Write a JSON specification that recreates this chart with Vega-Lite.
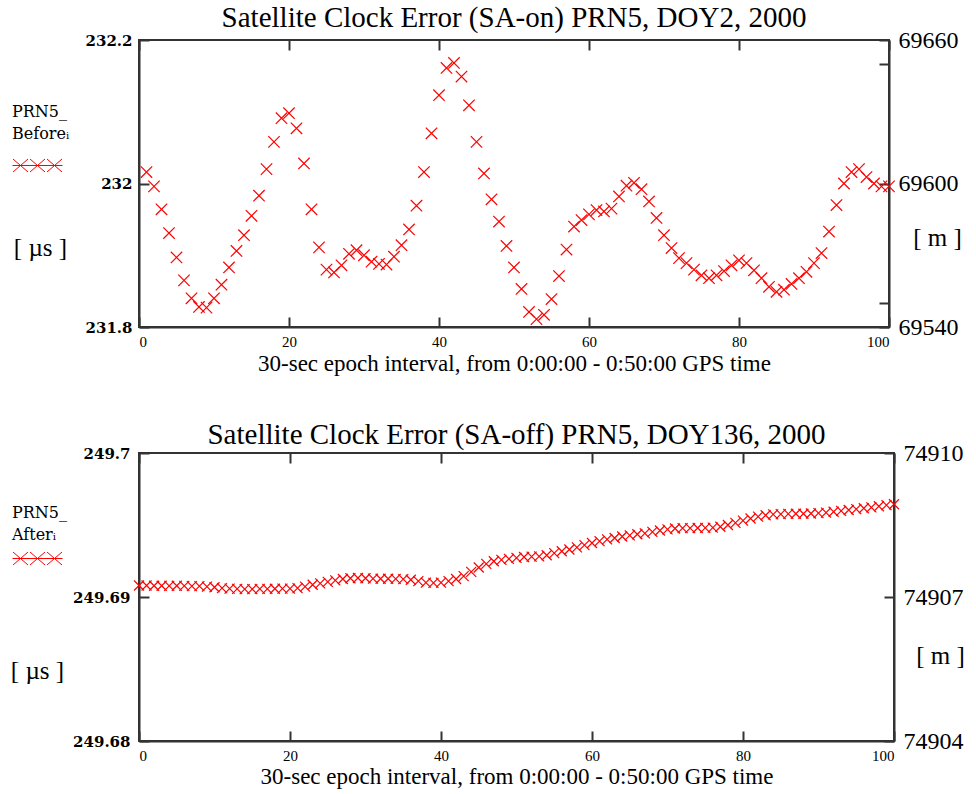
{
  "$schema": "https://vega.github.io/schema/vega-lite/v6.json",
  "background": "white",
  "padding": {"left": 9, "top": 3, "right": 4, "bottom": 2},
  "config": {
    "font": "Liberation Serif",
    "view": {"stroke": "#333", "strokeWidth": 2},
    "axis": {
      "labelFont": "Liberation Serif",
      "titleFont": "Liberation Serif",
      "labelColor": "#000",
      "titleColor": "#000",
      "titleFontWeight": "normal",
      "domainColor": "#333",
      "domainWidth": 2,
      "tickColor": "#333",
      "tickWidth": 2,
      "tickSize": -10,
      "grid": false
    },
    "title": {"font": "Liberation Serif", "fontSize": 29, "fontWeight": "normal", "color": "#000", "frame": "group", "baseline": "alphabetic", "anchor": "middle"}
  },
  "datasets": {
    "before": [
      {"i":1,"v":232.016},{"i":2,"v":231.996},{"i":3,"v":231.964},{"i":4,"v":231.931},{"i":5,"v":231.897},
      {"i":6,"v":231.865},{"i":7,"v":231.840},{"i":8,"v":231.828},{"i":9,"v":231.827},{"i":10,"v":231.840},
      {"i":11,"v":231.859},{"i":12,"v":231.883},{"i":13,"v":231.906},{"i":14,"v":231.928},{"i":15,"v":231.955},
      {"i":16,"v":231.983},{"i":17,"v":232.020},{"i":18,"v":232.058},{"i":19,"v":232.091},{"i":20,"v":232.098},
      {"i":21,"v":232.077},{"i":22,"v":232.028},{"i":23,"v":231.964},{"i":24,"v":231.911},{"i":25,"v":231.880},
      {"i":26,"v":231.876},{"i":27,"v":231.886},{"i":28,"v":231.902},{"i":29,"v":231.907},{"i":30,"v":231.900},
      {"i":31,"v":231.891},{"i":32,"v":231.888},{"i":33,"v":231.887},{"i":34,"v":231.898},{"i":35,"v":231.914},
      {"i":36,"v":231.936},{"i":37,"v":231.969},{"i":38,"v":232.016},{"i":39,"v":232.070},{"i":40,"v":232.123},
      {"i":41,"v":232.161},{"i":42,"v":232.168},{"i":43,"v":232.149},{"i":44,"v":232.109},{"i":45,"v":232.058},
      {"i":46,"v":232.014},{"i":47,"v":231.978},{"i":48,"v":231.947},{"i":49,"v":231.913},{"i":50,"v":231.883},
      {"i":51,"v":231.853},{"i":52,"v":231.821},{"i":53,"v":231.811},{"i":54,"v":231.817},{"i":55,"v":231.839},
      {"i":56,"v":231.871},{"i":57,"v":231.908},{"i":58,"v":231.940},{"i":59,"v":231.949},{"i":60,"v":231.957},
      {"i":61,"v":231.963},{"i":62,"v":231.961},{"i":63,"v":231.965},{"i":64,"v":231.982},{"i":65,"v":231.997},
      {"i":66,"v":232.001},{"i":67,"v":231.992},{"i":68,"v":231.975},{"i":69,"v":231.952},{"i":70,"v":231.928},
      {"i":71,"v":231.910},{"i":72,"v":231.896},{"i":73,"v":231.889},{"i":74,"v":231.880},{"i":75,"v":231.872},
      {"i":76,"v":231.868},{"i":77,"v":231.872},{"i":78,"v":231.878},{"i":79,"v":231.886},{"i":80,"v":231.893},
      {"i":81,"v":231.889},{"i":82,"v":231.879},{"i":83,"v":231.868},{"i":84,"v":231.856},{"i":85,"v":231.849},
      {"i":86,"v":231.852},{"i":87,"v":231.860},{"i":88,"v":231.868},{"i":89,"v":231.877},{"i":90,"v":231.889},
      {"i":91,"v":231.903},{"i":92,"v":231.933},{"i":93,"v":231.970},{"i":94,"v":232.000},{"i":95,"v":232.016},
      {"i":96,"v":232.020},{"i":97,"v":232.009},{"i":98,"v":232.000},{"i":99,"v":231.996},{"i":100,"v":231.996}
    ],
    "after": [
      {"i":0,"v":249.69080},{"i":1,"v":249.69080},{"i":2,"v":249.69078},{"i":3,"v":249.69078},{"i":4,"v":249.69077},
      {"i":5,"v":249.69078},{"i":6,"v":249.69077},{"i":7,"v":249.69076},{"i":8,"v":249.69075},{"i":9,"v":249.69072},
      {"i":10,"v":249.69068},{"i":11,"v":249.69062},{"i":12,"v":249.69058},{"i":13,"v":249.69056},{"i":14,"v":249.69055},
      {"i":15,"v":249.69055},{"i":16,"v":249.69056},{"i":17,"v":249.69056},{"i":18,"v":249.69057},{"i":19,"v":249.69058},
      {"i":20,"v":249.69058},{"i":21,"v":249.69062},{"i":22,"v":249.69072},{"i":23,"v":249.69085},{"i":24,"v":249.69095},
      {"i":25,"v":249.69105},{"i":26,"v":249.69115},{"i":27,"v":249.69125},{"i":28,"v":249.69130},{"i":29,"v":249.69132},
      {"i":30,"v":249.69130},{"i":31,"v":249.69128},{"i":32,"v":249.69127},{"i":33,"v":249.69127},{"i":34,"v":249.69126},
      {"i":35,"v":249.69124},{"i":36,"v":249.69120},{"i":37,"v":249.69110},{"i":38,"v":249.69100},{"i":39,"v":249.69098},
      {"i":40,"v":249.69100},{"i":41,"v":249.69110},{"i":42,"v":249.69125},{"i":43,"v":249.69145},{"i":44,"v":249.69175},
      {"i":45,"v":249.69205},{"i":46,"v":249.69230},{"i":47,"v":249.69248},{"i":48,"v":249.69258},{"i":49,"v":249.69265},
      {"i":50,"v":249.69272},{"i":51,"v":249.69278},{"i":52,"v":249.69280},{"i":53,"v":249.69282},{"i":54,"v":249.69290},
      {"i":55,"v":249.69305},{"i":56,"v":249.69318},{"i":57,"v":249.69330},{"i":58,"v":249.69345},{"i":59,"v":249.69360},
      {"i":60,"v":249.69375},{"i":61,"v":249.69388},{"i":62,"v":249.69400},{"i":63,"v":249.69410},{"i":64,"v":249.69420},
      {"i":65,"v":249.69428},{"i":66,"v":249.69436},{"i":67,"v":249.69442},{"i":68,"v":249.69452},{"i":69,"v":249.69462},
      {"i":70,"v":249.69470},{"i":71,"v":249.69476},{"i":72,"v":249.69478},{"i":73,"v":249.69478},{"i":74,"v":249.69479},
      {"i":75,"v":249.69480},{"i":76,"v":249.69482},{"i":77,"v":249.69488},{"i":78,"v":249.69500},{"i":79,"v":249.69515},
      {"i":80,"v":249.69530},{"i":81,"v":249.69545},{"i":82,"v":249.69558},{"i":83,"v":249.69568},{"i":84,"v":249.69574},
      {"i":85,"v":249.69576},{"i":86,"v":249.69577},{"i":87,"v":249.69578},{"i":88,"v":249.69578},{"i":89,"v":249.69580},
      {"i":90,"v":249.69582},{"i":91,"v":249.69586},{"i":92,"v":249.69592},{"i":93,"v":249.69598},{"i":94,"v":249.69604},
      {"i":95,"v":249.69610},{"i":96,"v":249.69616},{"i":97,"v":249.69622},{"i":98,"v":249.69630},{"i":99,"v":249.69638},
      {"i":100,"v":249.69644}
    ],
    "metersTop": [{"i":0,"m":69540},{"i":100,"m":69660}],
    "metersBottom": [{"i":0,"m":74904},{"i":100,"m":74910}]
  },
  "spacing": 44,
  "resolve": {"scale": {"color": "independent"}, "legend": {"color": "independent"}},
  "vconcat": [
    {
      "title": {"text": "Satellite Clock Error (SA-on) PRN5, DOY2, 2000", "offset": -5},
      "width": 750,
      "height": 287,
      "resolve": {"scale": {"y": "independent"}, "axis": {"x": "independent"}},
      "layer": [
        {
          "data": {"name": "before"},
          "mark": {"type": "point", "shape": "M-1,-1L1,1M-1,1L1,-1", "size": 130, "filled": false, "strokeWidth": 1.2, "opacity": 1},
          "encoding": {
            "x": {"field": "i", "type": "quantitative", "scale": {"domain": [0, 100], "nice": false},
              "axis": {"orient": "bottom", "values": [0, 20, 40, 60, 80, 100], "labelFontSize": 15, "labelPadding": 17,
                "title": "30-sec epoch interval, from 0:00:00 - 0:50:00 GPS time", "titleFontSize": 23, "titlePadding": 3}},
            "y": {"field": "v", "type": "quantitative", "scale": {"domain": [231.8, 232.2], "nice": false, "zero": false},
              "axis": {"values": [231.8, 232, 232.2], "format": "~f", "labelFont": "DejaVu Serif", "labelFontSize": 15, "labelFontWeight": "bold", "labelPadding": 17,
                "title": "[ µs ]", "titleFontSize": 25, "titleAngle": 0, "titleAlign": "center", "titleBaseline": "middle", "titleX": -99, "titleY": 207}},
            "color": {"datum": "Before", "scale": {"range": ["#ff0000"]},
              "legend": {"orient": "none", "legendX": -127, "legendY": 64, "title": ["PRN5_", "Beforeᵢ"],
                "titleFont": "DejaVu Serif", "titleFontSize": 16, "titleFontWeight": "normal", "titleColor": "#000", "titleLineHeight": 22, "titlePadding": -2,
                "symbolType": "M-1,0L1,0M-0.98,-0.26L-0.38,0.26M-0.98,0.26L-0.38,-0.26M-0.3,-0.26L0.3,0.26M-0.3,0.26L0.3,-0.26M0.38,-0.26L0.98,0.26M0.38,0.26L0.98,-0.26",
                "symbolSize": 2500, "symbolStrokeWidth": 1, "symbolFillColor": "transparent", "labelExpr": "''", "padding": 0}}
          }
        },
        {
          "data": {"name": "metersTop"},
          "mark": {"type": "point", "opacity": 0},
          "encoding": {
            "x": {"field": "i", "type": "quantitative", "scale": {"domain": [0, 100], "nice": false},
              "axis": {"orient": "top", "values": [0, 20, 40, 60, 80, 100], "labels": false, "domain": false, "title": null}},
            "y": {"field": "m", "type": "quantitative", "scale": {"domain": [69540, 69660], "nice": false, "zero": false},
              "axis": {"orient": "right", "values": [69540, 69550, 69600, 69650, 69660], "format": "~f",
                "labelExpr": "datum.value == 69550 || datum.value == 69650 ? '' : datum.label",
                "labelFontSize": 24, "labelPadding": 19,
                "title": "[ m ]", "titleFontSize": 25, "titleAngle": 0, "titleAlign": "center", "titleBaseline": "middle", "titleX": 48, "titleY": 197}}
          }
        }
      ]
    },
    {
      "title": {"text": "Satellite Clock Error (SA-off) PRN5, DOY136, 2000", "offset": -9},
      "width": 755,
      "height": 288,
      "resolve": {"scale": {"y": "independent"}, "axis": {"x": "independent"}},
      "layer": [
        {
          "data": {"name": "after"},
          "mark": {"type": "point", "shape": "M-1,-1L1,1M-1,1L1,-1", "size": 100, "filled": false, "strokeWidth": 1.2, "opacity": 1},
          "encoding": {
            "x": {"field": "i", "type": "quantitative", "scale": {"domain": [0, 100], "nice": false},
              "axis": {"orient": "bottom", "values": [0, 20, 40, 60, 80, 100], "labelFontSize": 15, "labelPadding": 17,
                "title": "30-sec epoch interval, from 0:00:00 - 0:50:00 GPS time", "titleFontSize": 23, "titlePadding": 2}},
            "y": {"field": "v", "type": "quantitative", "scale": {"domain": [249.68, 249.7], "nice": false, "zero": false},
              "axis": {"values": [249.68, 249.69, 249.7], "format": "~f", "labelFont": "DejaVu Serif", "labelFontSize": 15, "labelFontWeight": "bold", "labelPadding": 19,
                "title": "[ µs ]", "titleFontSize": 25, "titleAngle": 0, "titleAlign": "center", "titleBaseline": "middle", "titleX": -102, "titleY": 217}},
            "color": {"datum": "After", "scale": {"range": ["#ff0000"]},
              "legend": {"orient": "none", "legendX": -127, "legendY": 52, "title": ["PRN5_", "Afterᵢ"],
                "titleFont": "DejaVu Serif", "titleFontSize": 16, "titleFontWeight": "normal", "titleColor": "#000", "titleLineHeight": 22, "titlePadding": -10,
                "symbolType": "M-1,0L1,0M-0.98,-0.26L-0.38,0.26M-0.98,0.26L-0.38,-0.26M-0.3,-0.26L0.3,0.26M-0.3,0.26L0.3,-0.26M0.38,-0.26L0.98,0.26M0.38,0.26L0.98,-0.26",
                "symbolSize": 2500, "symbolStrokeWidth": 1, "symbolFillColor": "transparent", "labelExpr": "''", "padding": 0}}
          }
        },
        {
          "data": {"name": "metersBottom"},
          "mark": {"type": "point", "opacity": 0},
          "encoding": {
            "x": {"field": "i", "type": "quantitative", "scale": {"domain": [0, 100], "nice": false},
              "axis": {"orient": "top", "values": [0, 20, 40, 60, 80, 100], "labels": false, "domain": false, "title": null}},
            "y": {"field": "m", "type": "quantitative", "scale": {"domain": [74904, 74910], "nice": false, "zero": false},
              "axis": {"orient": "right", "values": [74904, 74907, 74910], "format": "~f",
                "labelFontSize": 24, "labelPadding": 19,
                "title": "[ m ]", "titleFontSize": 25, "titleAngle": 0, "titleAlign": "center", "titleBaseline": "middle", "titleX": 46, "titleY": 202}}
          }
        }
      ]
    }
  ]
}
